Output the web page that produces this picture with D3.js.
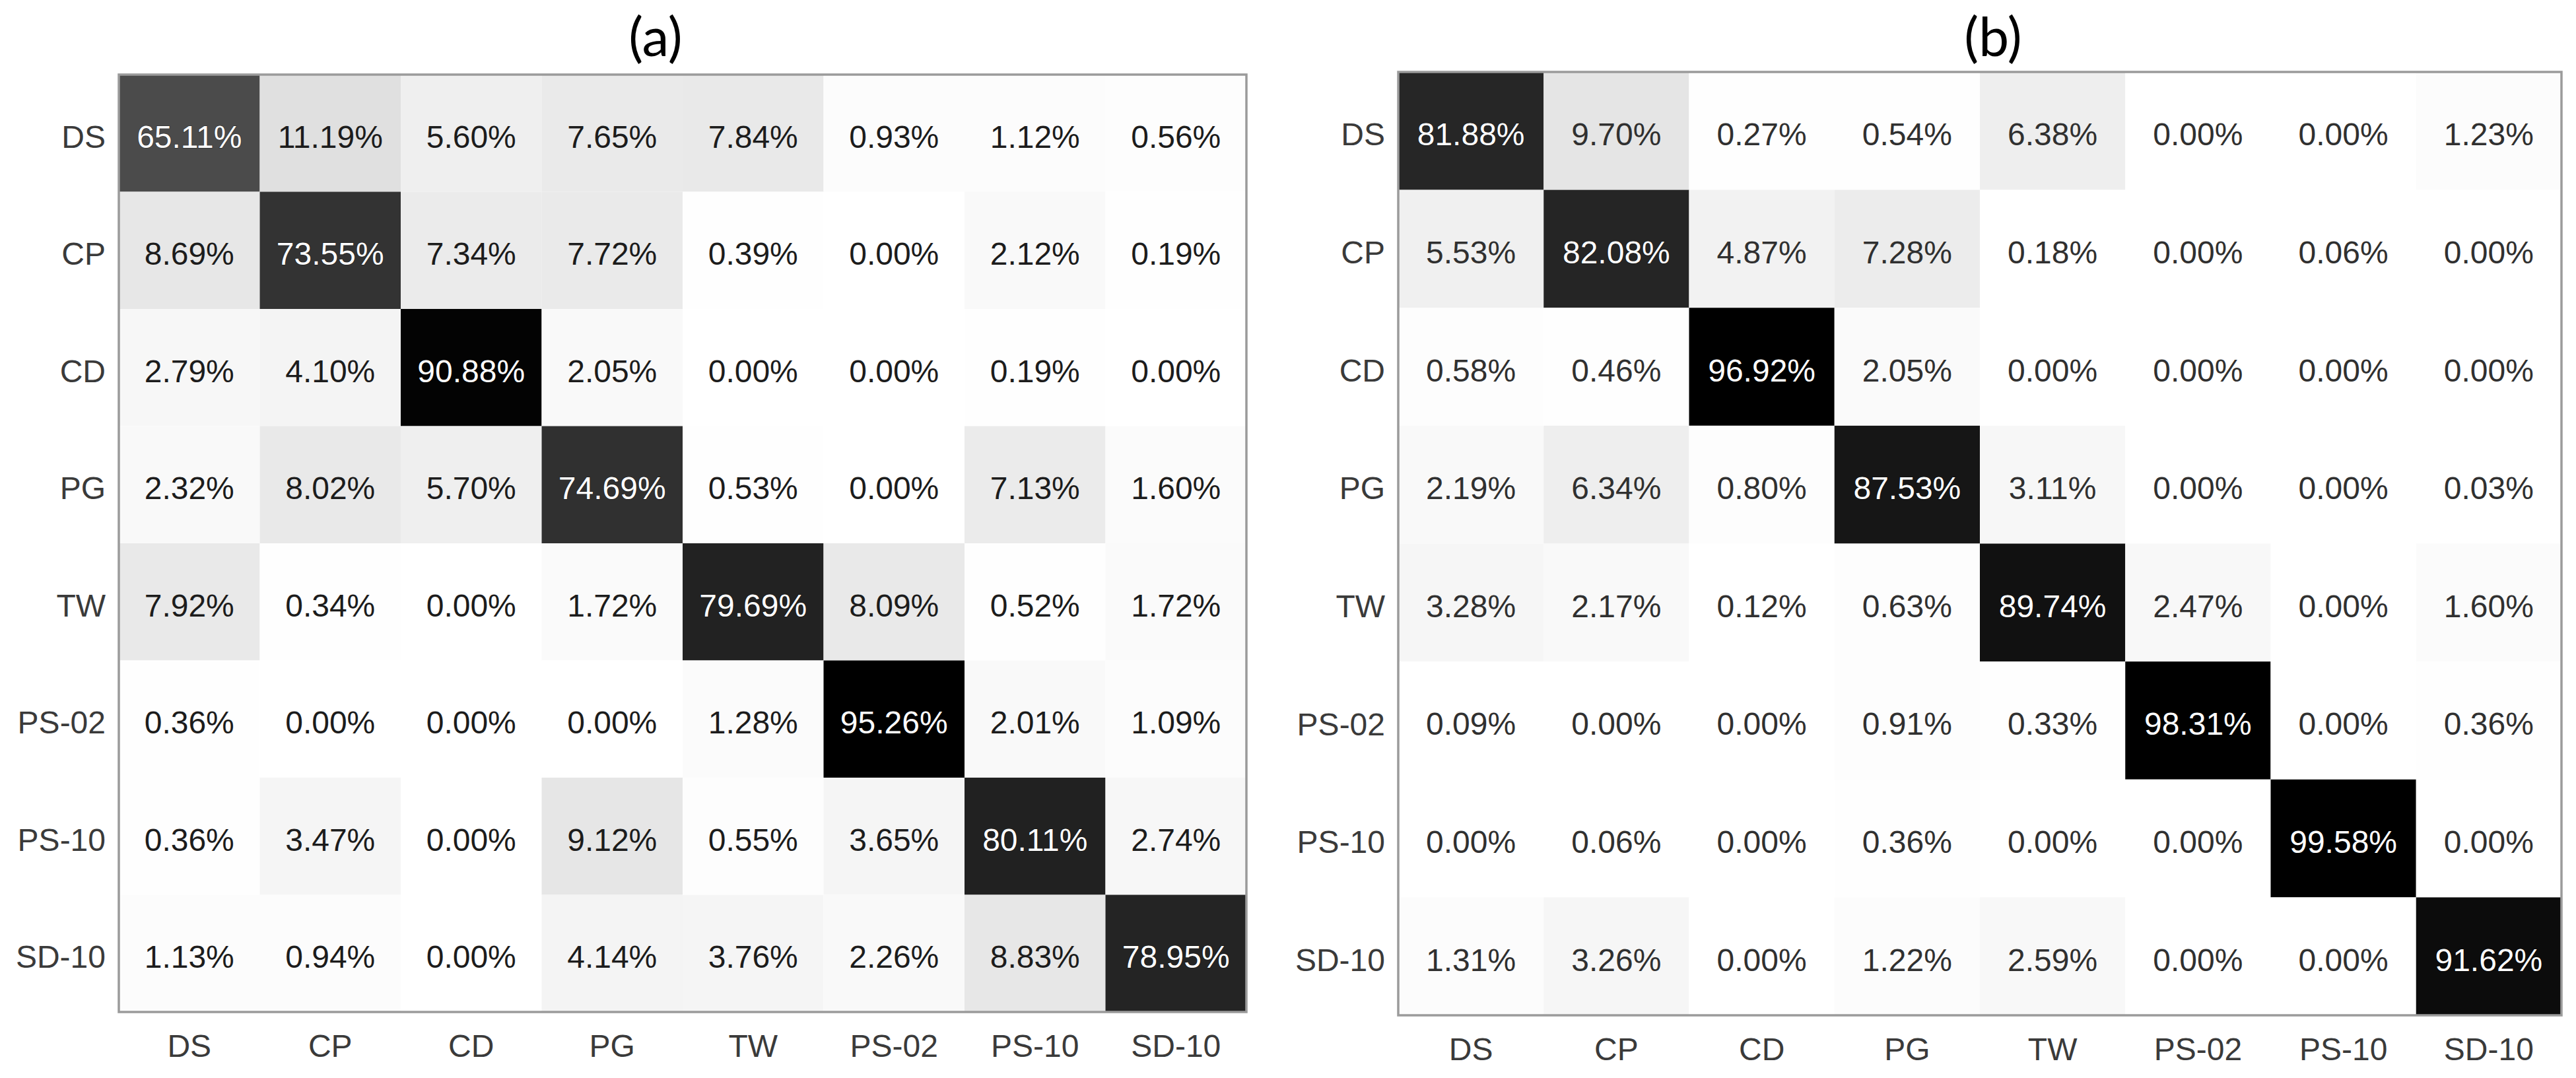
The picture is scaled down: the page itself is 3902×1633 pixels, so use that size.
<!DOCTYPE html>
<html>
<head>
<meta charset="utf-8">
<script src="https://cdn.jsdelivr.net/npm/d3@7"></script>
<style>
  html, body { margin: 0; padding: 0; background: #ffffff; }
  svg { display: block; }
</style>
</head>
<body>
<script>
// ---------------- data ----------------
const categories = ["DS", "CP", "CD", "PG", "TW", "PS-02", "PS-10", "SD-10"];
const panelTitles = ["(a)", "(b)"];

// rows = true class, columns = predicted class (percent)
const valuesA = [
  [65.11, 11.19, 5.60, 7.65, 7.84, 0.93, 1.12, 0.56],
  [8.69, 73.55, 7.34, 7.72, 0.39, 0.00, 2.12, 0.19],
  [2.79, 4.10, 90.88, 2.05, 0.00, 0.00, 0.19, 0.00],
  [2.32, 8.02, 5.70, 74.69, 0.53, 0.00, 7.13, 1.60],
  [7.92, 0.34, 0.00, 1.72, 79.69, 8.09, 0.52, 1.72],
  [0.36, 0.00, 0.00, 0.00, 1.28, 95.26, 2.01, 1.09],
  [0.36, 3.47, 0.00, 9.12, 0.55, 3.65, 80.11, 2.74],
  [1.13, 0.94, 0.00, 4.14, 3.76, 2.26, 8.83, 78.95]
];

const valuesB = [
  [81.88, 9.70, 0.27, 0.54, 6.38, 0.00, 0.00, 1.23],
  [5.53, 82.08, 4.87, 7.28, 0.18, 0.00, 0.06, 0.00],
  [0.58, 0.46, 96.92, 2.05, 0.00, 0.00, 0.00, 0.00],
  [2.19, 6.34, 0.80, 87.53, 3.11, 0.00, 0.00, 0.03],
  [3.28, 2.17, 0.12, 0.63, 89.74, 2.47, 0.00, 1.60],
  [0.09, 0.00, 0.00, 0.91, 0.33, 98.31, 0.00, 0.36],
  [0.00, 0.06, 0.00, 0.36, 0.00, 0.00, 99.58, 0.00],
  [1.31, 3.26, 0.00, 1.22, 2.59, 0.00, 0.00, 91.62]
];

// ---------------- layout / style ----------------
const W = 3902, H = 1633;
const panels = [
  { title: panelTitles[0], values: valuesA, left: 180, top: 113, right: 1888, bottom: 1533, titleX: 993, colorMax: 92, textDark: "#1c1c1c" },
  { title: panelTitles[1], values: valuesB, left: 2118, top: 109, right: 3880, bottom: 1538, titleX: 3019, colorMax: 96, textDark: "#303030" }
];
const labelFont = "'Liberation Sans', Arial, Helvetica, sans-serif";
const fontSize = 48;

const svg = d3.select("body").append("svg")
  .attr("width", W).attr("height", H)
  .attr("viewBox", `0 0 ${W} ${H}`);

svg.append("rect").attr("width", W).attr("height", H).attr("fill", "#ffffff");

panels.forEach(p => {
  const g = svg.append("g").attr("transform", `translate(${p.left},${p.top})`);
  const w = p.right - p.left, h = p.bottom - p.top;

  const x = d3.scaleBand().domain(categories).range([0, w]).padding(0);
  const y = d3.scaleBand().domain(categories).range([0, h]).padding(0);
  const color = d3.scaleLinear().domain([0, p.colorMax]).range(["#ffffff", "#000000"]).clamp(true);

  const cells = [];
  p.values.forEach((row, i) => row.forEach((v, j) => cells.push({ r: categories[i], c: categories[j], v })));

  g.selectAll("rect.cell").data(cells).join("rect")
    .attr("class", "cell")
    .attr("x", d => x(d.c))
    .attr("y", d => y(d.r))
    .attr("width", x.bandwidth())
    .attr("height", y.bandwidth())
    .attr("fill", d => color(d.v));

  g.selectAll("text.val").data(cells).join("text")
    .attr("class", "val")
    .attr("x", d => x(d.c) + x.bandwidth() / 2)
    .attr("y", d => y(d.r) + y.bandwidth() / 2 + 22)
    .attr("text-anchor", "middle")
    .attr("font-family", labelFont)
    .attr("font-size", fontSize)
    .attr("fill", d => d.v > 50 ? "#ffffff" : p.textDark)
    .attr("stroke", d => d.v > 50 ? "rgba(0,0,0,0.35)" : "none")
    .attr("stroke-width", 1.5)
    .attr("paint-order", "stroke")
    .text(d => d.v.toFixed(2) + "%");

  // frame
  g.append("rect")
    .attr("x", 0).attr("y", 0).attr("width", w).attr("height", h)
    .attr("fill", "none").attr("stroke", "#9b9b9b").attr("stroke-width", 3.5);

  // axes
  const yAxis = g.append("g").call(d3.axisLeft(y).tickSize(0).tickPadding(20));
  yAxis.select(".domain").remove();
  yAxis.selectAll("text")
    .attr("font-family", labelFont).attr("font-size", fontSize)
    .attr("fill", "#3a3a3a").attr("dy", "0.46em");

  const xAxis = g.append("g").attr("transform", `translate(0,${h})`)
    .call(d3.axisBottom(x).tickSize(0).tickPadding(34));
  xAxis.select(".domain").remove();
  xAxis.selectAll("text")
    .attr("font-family", labelFont).attr("font-size", fontSize)
    .attr("fill", "#3a3a3a");

  // title
  svg.append("text")
    .attr("x", p.titleX).attr("y", 85)
    .attr("text-anchor", "middle")
    .attr("font-family", "Lato, 'Open Sans', sans-serif")
    .attr("font-size", 82)
    .attr("fill", "#000000")
    .text(p.title);
});
</script>
</body>
</html>
